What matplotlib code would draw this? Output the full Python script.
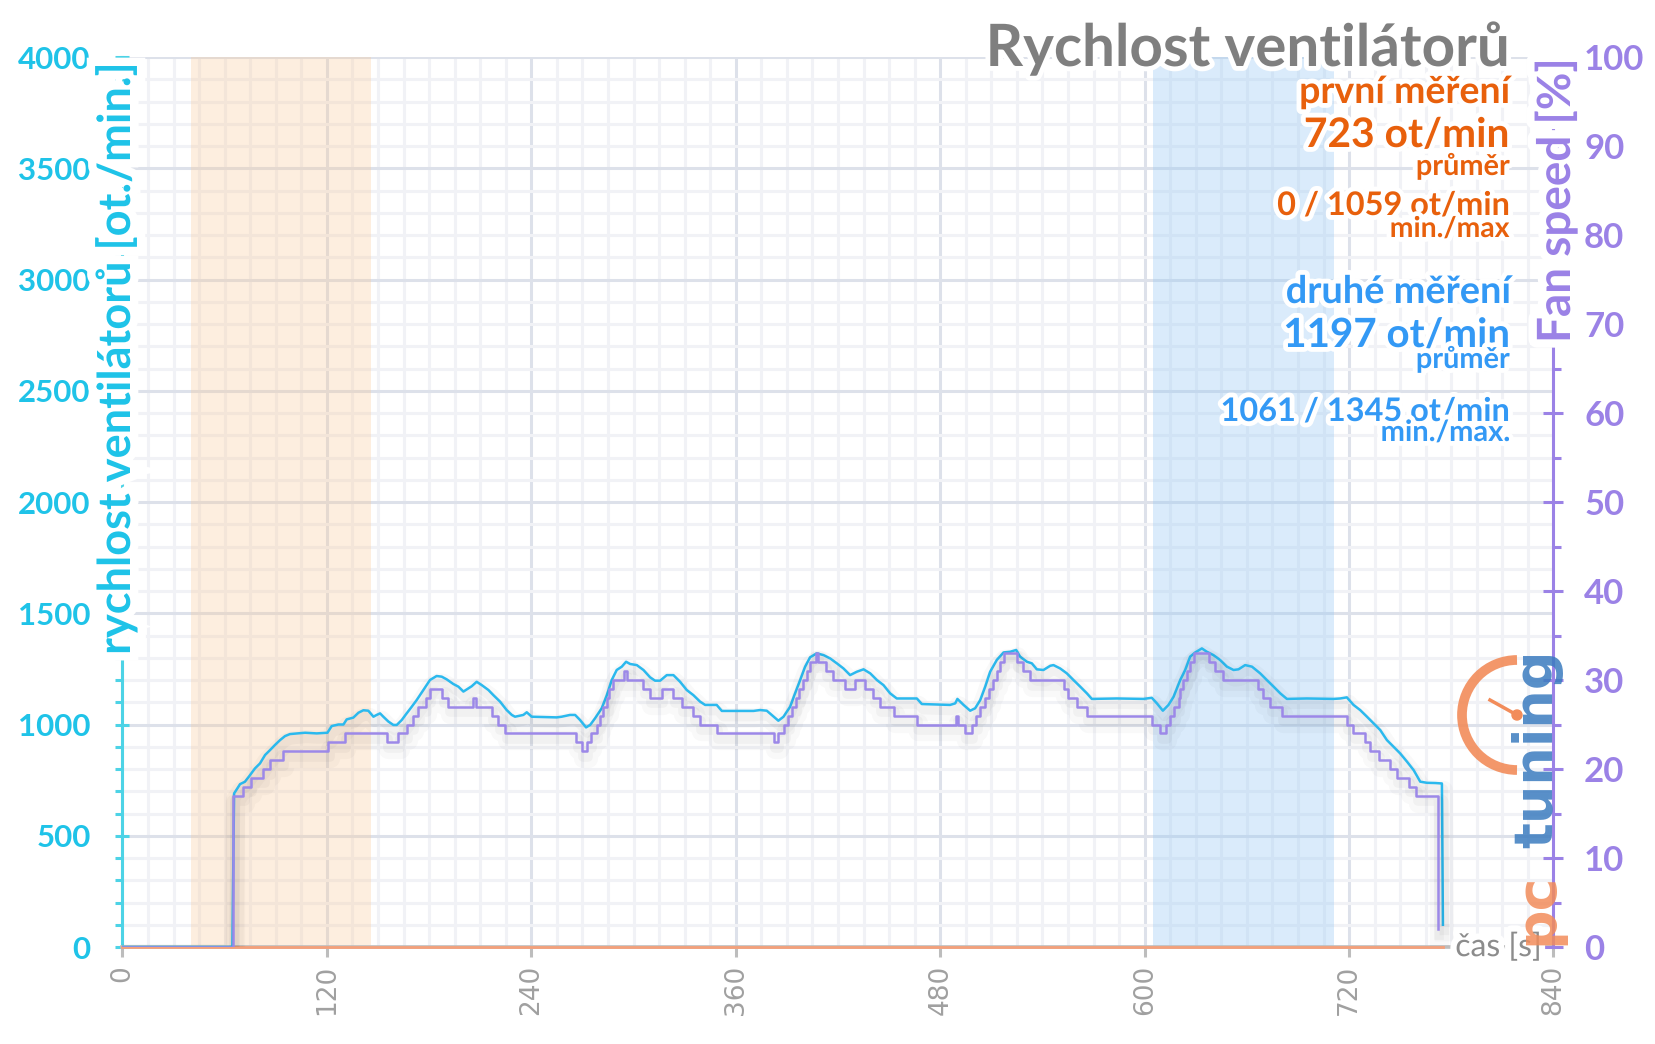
import matplotlib
matplotlib.use('Agg')
import matplotlib.pyplot as plt
import matplotlib.patheffects as pe
from matplotlib.patches import Arc, Circle, PathPatch
from matplotlib.lines import Line2D
from matplotlib.textpath import TextPath
from matplotlib.font_manager import FontProperties
from matplotlib.transforms import Affine2D
from matplotlib.ticker import MultipleLocator

plt.rcParams['font.family'] = ['Lato', 'DejaVu Sans']

# fan rpm (druhé měření) [s, ot/min]
rpm_time = [0, 64.5, 65.5, 69, 71.9, 74.9, 77.8, 80.7, 83.7, 86.6, 89.5, 92.5, 95.4, 98.3, 107.2, 114,
            120.3, 122.8, 126.7, 129.7, 131.6, 135.5, 138.5, 141.4, 144.3, 147.3, 149.2, 151.2, 153.1,
            156.1, 159, 161, 163.9, 166.8, 169.8, 172.7, 176.6, 180.5, 184.4, 187.4, 190.3, 194.2,
            197.2, 200.1, 203, 205, 207.9, 210.9, 214.8, 217.7, 221.6, 225.5, 228.5, 230.4, 235.3,
            237.3, 240.2, 254.9, 257.8, 262.7, 265.7, 268.6, 272.1, 274.5, 277.4, 281.3, 284.3, 287.2,
            290.1, 293.1, 295.6, 298, 301.9, 305.8, 309.7, 312.6, 315.6, 319.5, 323.4, 327.3, 331.2,
            335.1, 339, 342, 348.8, 351.8, 370.4, 374.3, 378.2, 381.1, 385, 388, 391.9, 394.8, 397.8,
            400.7, 403.6, 407.5, 411.5, 415.4, 419.3, 423.2, 427.1, 431, 435, 438.9, 442.8, 446.7,
            450.6, 454.5, 466.3, 469.2, 485.8, 488.8, 490.1, 493.7, 497.6, 500.5, 503.5, 506.4, 509.3,
            513.2, 517.2, 521.1, 524.6, 526.9, 530.9, 533.8, 536.7, 540.6, 544.6, 546.5, 550.4, 554.3,
            558.2, 562.2, 566.1, 569, 583.7, 599.3, 604.2, 607.2, 610.7, 614, 617, 620.9, 623.8, 626.7,
            629.7, 633.6, 636.5, 640.4, 644.3, 648.3, 652.2, 655.1, 659, 663, 667.8, 671.7, 675.7,
            679.6, 683.5, 695.2, 710.9, 714.8, 718.7, 722.6, 726.5, 730.5, 734.4, 738.3, 742.2, 746.1,
            750, 754, 757.9, 761.8, 765.7, 770.6, 774.5, 775.1]
rpm_value = [0, 0, 690, 732, 743, 773, 803, 825, 863, 885, 908, 930, 948, 957, 963, 960,
             963, 993, 1000, 1000, 1023, 1031, 1053, 1064, 1062, 1035, 1043, 1050, 1035,
             1013, 998, 998, 1020, 1050, 1080, 1110, 1155, 1200, 1218, 1215, 1203, 1182,
             1170, 1148, 1162, 1172, 1192, 1177, 1155, 1132, 1103, 1065, 1043, 1035, 1043,
             1055, 1035, 1032, 1035, 1043, 1043, 1020, 987, 998, 1028, 1073, 1132, 1200,
             1245, 1260, 1282, 1272, 1267, 1245, 1212, 1197, 1197, 1222, 1222, 1192, 1155,
             1132, 1103, 1088, 1088, 1061, 1061, 1065, 1062, 1043, 1017, 1035, 1080, 1140, 1200,
             1260, 1302, 1320, 1312, 1297, 1275, 1252, 1222, 1237, 1248, 1230, 1200, 1177,
             1140, 1117, 1117, 1092, 1088, 1095, 1115, 1088, 1062, 1073, 1110, 1170, 1237,
             1290, 1324, 1327, 1335, 1305, 1282, 1275, 1248, 1245, 1264, 1267, 1252, 1230,
             1200, 1170, 1140, 1115, 1117, 1115, 1120, 1095, 1062, 1088, 1125, 1200, 1245, 1305,
             1324, 1342, 1327, 1312, 1290, 1260, 1245, 1248, 1267, 1260, 1230, 1200, 1170,
             1140, 1115, 1117, 1115, 1117, 1122, 1088, 1065, 1035, 1005, 975, 930, 900,
             870, 833, 795, 743, 738, 737, 735, 100]

# fan speed [%] (step changes)
fan_time = [0, 65, 70.9, 75.4, 82.7, 86.6, 94.0, 120.8, 130.6, 155.1, 161.9, 166.8, 170.4, 173.7,
            178.2, 180.5, 187.8, 191.3, 205.6, 207.5, 216.7, 220.6, 224.6, 266.3, 269.6, 272.5,
            274.9, 278.4, 280.3, 281.9, 284.6, 285.8, 288.2, 294.6, 296.0, 305.8, 309.7, 316.5,
            323.4, 328.3, 335.1, 339.0, 348.8, 382.5, 384.5, 388.4, 390.9, 392.9, 395.4, 397.4,
            399.3, 401.7, 403.6, 406.8, 408.0, 413.0, 416.9, 424.2, 430.1, 435.9, 440.8, 444.7,
            452.6, 466.3, 489.4, 490.5, 494.6, 498.6, 501.1, 503.5, 506.4, 508.9, 510.9, 513.2,
            515.2, 517.2, 525.0, 528.5, 532.8, 552.4, 555.3, 560.2, 566.1, 604.2, 609.1, 612.6,
            614.6, 617.4, 619.9, 620.9, 622.8, 624.8, 626.7, 628.7, 637.5, 641.4, 645.9, 666.3,
            669.4, 673.7, 680.5, 718.7, 722.6, 729.5, 732.4, 737.3, 744.2, 748.1, 754.9, 759.4, 772.0]
fan_value = [0, 17, 18, 19, 20, 21, 22, 23, 24, 23, 24, 25, 26, 27,
             28, 29, 28, 27, 28, 27, 26, 25, 24, 23, 22, 23,
             24, 25, 26, 27, 28, 29, 30, 31, 30, 29, 28, 29,
             28, 27, 26, 25, 24, 23, 24, 25, 26, 27, 28, 29,
             30, 31, 32, 33, 32, 31, 30, 29, 30, 29, 28, 27,
             26, 25, 26, 25, 24, 25, 26, 27, 28, 29, 30, 31,
             32, 33, 32, 31, 30, 29, 28, 27, 26, 25, 24, 25,
             26, 27, 28, 29, 30, 31, 32, 33, 32, 31, 30, 29,
             28, 27, 26, 25, 24, 23, 22, 21, 20, 19, 18, 17, 2]

# first measurement only shows as a flat line on the baseline
first_time = [0, 775]
first_value = [0, 0]

orange_span = (40, 146)
blue_span = (605, 711)

cyan = '#1fc3e8'
purple = '#9b82e6'
orange = '#e8600c'
blue = '#3399f5'

fig = plt.figure(figsize=(16.56, 10.44), dpi=100)
ax = fig.add_axes([0.07397, 0.09291, 0.86413, 0.85249])
ax2 = ax.twinx()

ax.set_xlim(0, 840)
ax.set_ylim(0, 4000)
ax2.set_ylim(0, 100)

# grid
ax.xaxis.set_major_locator(MultipleLocator(120))
ax.xaxis.set_minor_locator(MultipleLocator(15))
ax.yaxis.set_major_locator(MultipleLocator(500))
ax.yaxis.set_minor_locator(MultipleLocator(100))
ax.grid(which='minor', color='#f1f2f6', lw=2.2, zorder=0)
ax.grid(which='major', color='#dde1ea', lw=2.2, zorder=0)
ax.set_axisbelow(True)

ax.axvspan(*orange_span, color='#fac896', alpha=0.3, lw=0, zorder=1)
ax.axvspan(*blue_span, color='#96c8f5', alpha=0.35, lw=0, zorder=1)

shadow = [pe.SimpleLineShadow(offset=(1, -5), shadow_color='k', alpha=0.025, linewidth=14),
          pe.SimpleLineShadow(offset=(1, -4), shadow_color='k', alpha=0.03, linewidth=7),
          pe.Normal()]
ax.plot(first_time, first_value, color='#f4a07a', lw=2, zorder=4, clip_on=False)
ax.plot(rpm_time, rpm_value, color='#2bb9ee', lw=1.8, zorder=5, path_effects=shadow)
ax2.plot(fan_time, fan_value, color='#9c88e8', lw=1.8, drawstyle='steps-post', zorder=5,
         path_effects=shadow)

# spines and ticks
for s in ['top', 'right']:
    ax.spines[s].set_visible(False)
for s in ['top', 'left', 'bottom']:
    ax2.spines[s].set_visible(False)
ax.spines['left'].set_color('#4dd3e6')
ax.spines['left'].set_linewidth(2.2)
ax.spines['bottom'].set_color('#bdbdbd')
ax.spines['bottom'].set_linewidth(2.6)
ax2.spines['right'].set_color(purple)
ax2.spines['right'].set_linewidth(2.2)

ax.tick_params(axis='y', which='major', direction='inout', length=10, width=2.2, color='#4dd3e6',
               labelcolor=cyan, labelsize=22.5, pad=18)
ax.tick_params(axis='y', which='minor', direction='out', length=5, width=2.2, color='#4dd3e6')
for lab in ax.get_yticklabels():
    lab.set_fontweight('bold')
ax.tick_params(axis='x', which='major', direction='out', length=7, width=2.2, color='#bdbdbd',
               labelcolor='#a0a0a0', labelsize=19, labelrotation=90, pad=6)
ax.tick_params(axis='x', which='minor', length=0)
for lab in ax.get_xticklabels():
    lab.set_family('DejaVu Sans')

ax2.yaxis.set_major_locator(MultipleLocator(10))
ax2.yaxis.set_minor_locator(MultipleLocator(5))
ax2.tick_params(axis='y', which='major', direction='inout', length=14, width=2.2, color=purple,
                labelcolor=purple, labelsize=25, pad=15)
ax2.tick_params(axis='y', which='minor', direction='out', length=6, width=2.2, color=purple)
for lab in ax2.get_yticklabels():
    lab.set_fontweight('bold')

glow = [pe.withStroke(linewidth=7, foreground='white')]
wide_glow = [pe.withStroke(linewidth=12, foreground='white')]

def px(x, y):
    return x / 1656, 1 - y / 1044

# left axis title drawn as a path (rotated text mangles the ring of ů)
label = 'rychlost ventilátorů [ot./min.]'
tp = TextPath((0, 0), label, size=32.5 / 72, prop=FontProperties(family='Lato', weight='bold'))
length = tp.get_extents().x1
top_in = (1044 - 66) / 100
trans = Affine2D().rotate_deg(90).translate(1.30, top_in - length) + fig.dpi_scale_trans
fig.add_artist(PathPatch(tp, facecolor=cyan, edgecolor='none', transform=trans,
                         path_effects=wide_glow))

fig.text(*px(1556, 58), 'Fan speed [%]', rotation=90, ha='center', va='top',
         color=purple, fontsize=33, fontweight='bold', path_effects=wide_glow)
fig.text(*px(1542, 947), 'čas [s]', ha='right', va='center', color='#8c8c8c', fontsize=23,
         path_effects=[pe.withStroke(linewidth=9, foreground='white')])

fig.text(*px(1510, 66), 'Rychlost ventilátorů', ha='right', va='baseline', color='#7f7f7f',
         fontsize=42, fontweight='bold', path_effects=glow)

notes = [
    (103, 'první měření', 27, orange),
    (147, '723 ot/min', 29.3, orange),
    (175, 'průměr', 20.8, orange),
    (215, '0 / 1059 ot/min', 23.4, orange),
    (237, 'min./max', 20.4, orange),
    (303, 'druhé měření', 27.3, blue),
    (347, '1197 ot/min', 29, blue),
    (368, 'průměr', 20.8, blue),
    (421, '1061 / 1345 ot/min', 23.4, blue),
    (441, 'min./max.', 20.9, blue),
]
for y, txt, size, col in notes:
    fig.text(*px(1510, y), txt, ha='right', va='baseline', color=col, fontsize=size,
             fontweight='bold', path_effects=glow)

# pctuning watermark
fig.text(*px(1537, 945), 'pc', rotation=90, ha='center', va='bottom', color='#f28c5a',
         fontsize=40, fontweight='bold', family='DejaVu Sans', alpha=0.85)
fig.text(*px(1537, 848), 'tuning', rotation=90, ha='center', va='bottom', color='#3a7bbf',
         fontsize=39, fontweight='bold', family='DejaVu Sans', alpha=0.85)
cx, cy = 15.17, (1044 - 715) / 100
fig.add_artist(Arc((cx, cy), 1.1, 1.1, theta1=90, theta2=270, lw=7, color='#f28c5a', alpha=0.9,
                   transform=fig.dpi_scale_trans))
fig.add_artist(Line2D([cx, cx - 0.27], [cy, cy + 0.15], lw=2.5, color='#f28c5a',
                      transform=fig.dpi_scale_trans))
fig.add_artist(Circle((cx, cy), 0.05, color='#f28c5a', transform=fig.dpi_scale_trans))

fig.savefig('out.png', dpi=100)
